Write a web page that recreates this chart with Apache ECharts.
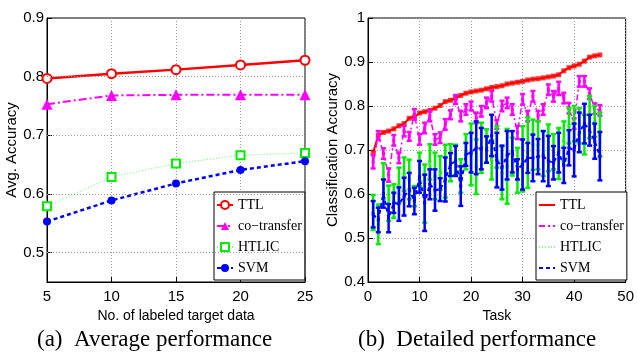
<!DOCTYPE html>
<html><head><meta charset="utf-8">
<script src="https://cdn.jsdelivr.net/npm/echarts@6/dist/echarts.min.js"></script>
<style>html,body{margin:0;padding:0;background:#fff}#c{width:637px;height:354px}</style>
</head><body><div id="c"></div><script>
// ---- (a) Average performance ----
const nLabeled = [5, 10, 15, 20, 25];
const avgTTL   = [0.797, 0.805, 0.812, 0.820, 0.828];
const avgCo    = [0.753, 0.768, 0.769, 0.769, 0.769];
const avgHTLIC = [0.579, 0.629, 0.652, 0.666, 0.670];
const avgSVM   = [0.553, 0.589, 0.618, 0.641, 0.656];
const avgYTicks = [0.5, 0.6, 0.7, 0.8, 0.9];
const avgYGrid  = [0.5, 0.6, 0.7, 0.8];

// ---- (b) Detailed performance ----
const tasks = [1,2,3,4,5,6,7,8,9,10,11,12,13,14,15,16,17,18,19,20,21,22,23,24,25,26,27,28,29,30,31,32,33,34,35,36,37,38,39,40,41,42,43,44,45];
const ttl = [0.695,0.733,0.740,0.743,0.748,0.755,0.760,0.772,0.775,0.784,0.787,0.790,0.795,0.801,0.810,0.813,0.818,0.824,0.829,0.832,0.834,0.836,0.839,0.842,0.844,0.846,0.850,0.852,0.854,0.856,0.859,0.861,0.862,0.864,0.866,0.868,0.871,0.880,0.887,0.891,0.895,0.902,0.911,0.914,0.916];
const co = [0.673,0.733,0.692,0.643,0.722,0.682,0.743,0.731,0.781,0.724,0.750,0.777,0.724,0.728,0.758,0.780,0.815,0.777,0.792,0.800,0.773,0.788,0.807,0.822,0.758,0.800,0.807,0.792,0.740,0.815,0.777,0.822,0.777,0.792,0.837,0.822,0.840,0.818,0.795,0.760,0.856,0.856,0.828,0.794,0.790];
const coErr = [0.015,0.010,0.012,0.015,0.012,0.012,0.012,0.010,0.012,0.012,0.012,0.012,0.012,0.012,0.012,0.010,0.010,0.012,0.012,0.010,0.012,0.012,0.012,0.012,0.010,0.012,0.012,0.012,0.015,0.012,0.012,0.012,0.012,0.012,0.012,0.012,0.015,0.012,0.012,0.012,0.012,0.012,0.012,0.012,0.012];
const htlic = [0.558,0.531,0.630,0.579,0.584,0.620,0.645,0.633,0.595,0.656,0.601,0.673,0.641,0.648,0.652,0.671,0.678,0.641,0.696,0.690,0.662,0.705,0.709,0.678,0.707,0.648,0.663,0.685,0.654,0.680,0.694,0.712,0.711,0.692,0.705,0.696,0.692,0.720,0.755,0.760,0.755,0.735,0.775,0.765,0.735];
const htlicErr = [0.040,0.045,0.040,0.040,0.038,0.040,0.038,0.045,0.023,0.038,0.066,0.040,0.053,0.038,0.060,0.042,0.034,0.038,0.040,0.070,0.062,0.057,0.038,0.045,0.047,0.060,0.085,0.043,0.051,0.074,0.080,0.057,0.055,0.051,0.053,0.040,0.058,0.045,0.040,0.040,0.040,0.045,0.048,0.035,0.050];
const svm = [0.554,0.541,0.601,0.545,0.580,0.577,0.594,0.610,0.584,0.639,0.580,0.622,0.609,0.610,0.633,0.667,0.675,0.618,0.690,0.694,0.705,0.703,0.701,0.733,0.677,0.660,0.688,0.696,0.656,0.667,0.682,0.682,0.685,0.686,0.675,0.671,0.694,0.665,0.705,0.700,0.740,0.760,0.745,0.720,0.686];
const svmErr = [0.030,0.028,0.032,0.032,0.023,0.038,0.043,0.038,0.030,0.036,0.064,0.034,0.047,0.026,0.050,0.026,0.034,0.045,0.026,0.045,0.060,0.047,0.030,0.047,0.062,0.050,0.055,0.047,0.023,0.057,0.034,0.053,0.040,0.057,0.057,0.038,0.045,0.040,0.040,0.060,0.045,0.045,0.035,0.040,0.055];

const names = ['TTL', 'co\u2212transfer', 'HTLIC', 'SVM'];
const RED = '#ff0000', MAG = '#ff00ff', GRN = '#00ee00', LGRN = '#7dff7d', BLU = '#0000ff';
const SANS = '"Liberation Sans", Arial, sans-serif';
const SERIF = '"Liberation Serif", "Times New Roman", serif';
const GRIDLINE = { color: '#9a9a9a', type: [1, 2], width: 1 };

function pairs(xs, ys) { return xs.map((x, i) => [x, ys[i]]); }
function bars(xs, ys, es) { return xs.map((x, i) => [x, ys[i] - es[i], ys[i] + es[i], ys[i]]); }
function errRender(color, lw, cap) {
  return function (params, api) {
    const x = api.value(0), lo = api.value(1), hi = api.value(2), m = api.value(3);
    const a = api.coord([x, hi]), b = api.coord([x, lo]), c = api.coord([x, m]);
    const st = { stroke: color, lineWidth: lw };
    return { type: 'group', children: [
      { type: 'line', shape: { x1: a[0], y1: a[1], x2: b[0], y2: b[1] }, style: st },
      { type: 'line', shape: { x1: a[0] - cap, y1: a[1], x2: a[0] + cap, y2: a[1] }, style: st },
      { type: 'line', shape: { x1: b[0] - cap, y1: b[1], x2: b[0] + cap, y2: b[1] }, style: st },
      { type: 'rect', shape: { x: c[0] - 1.5, y: c[1] - 1.5, width: 3, height: 3 }, style: { fill: color } }
    ] };
  };
}

function ax(extra) {
  const base = {
    axisLine: { show: true, lineStyle: { color: '#000', width: 1 } },
    axisTick: { show: true, inside: true, length: 5, lineStyle: { color: '#000' } },
    splitLine: { show: true, lineStyle: GRIDLINE },
    nameLocation: 'middle',
    nameTextStyle: { color: '#000', fontFamily: SANS, fontSize: 15 }
  };
  return Object.assign(base, extra);
}
const lab = (extra) => Object.assign({ color: '#000', fontFamily: SANS, fontSize: 15 }, extra);

const option = {
  backgroundColor: '#fff',
  animation: false,
  title: [
    { text: '(a)  Average performance', left: 37, top: 328, padding: 0,
      textStyle: { fontFamily: SERIF, fontSize: 23, fontWeight: 'normal', color: '#000' } },
    { text: '(b)  Detailed performance', left: 358, top: 328, padding: 0,
      textStyle: { fontFamily: SERIF, fontSize: 23, fontWeight: 'normal', color: '#000' } }
  ],
  grid: [
    { left: 47, top: 18, width: 258, height: 264, show: true, borderColor: '#000', borderWidth: 1, backgroundColor: 'transparent' },
    { left: 368, top: 18, width: 262, height: 264, show: true, borderColor: '#000', borderWidth: 1, backgroundColor: 'transparent' }
  ],
  xAxis: [
    ax({ gridIndex: 0, type: 'value', min: 5, max: 25, interval: 5, name: 'No. of labeled target data', nameGap: 21,
         nameTextStyle: { color: '#000', fontFamily: SANS, fontSize: 14 }, axisLabel: lab({ margin: 7 }) }),
    ax({ gridIndex: 1, type: 'value', min: 0, max: 50, interval: 10, name: 'Task', nameGap: 21,
         nameTextStyle: { color: '#000', fontFamily: SANS, fontSize: 14 }, axisLabel: lab({ margin: 7 }) })
  ],
  yAxis: [
    ax({ gridIndex: 0, type: 'value', min: 0.45, max: 0.9, interval: 0.05, name: 'Avg. Accuracy', nameGap: 25,
         splitLine: { show: false },
         axisTick: { show: true, inside: true, length: 5, lineStyle: { color: '#000' }, customValues: avgYTicks },
         axisLabel: lab({ margin: 3, customValues: avgYTicks, formatter: v => v.toFixed(1) }) }),
    ax({ gridIndex: 1, type: 'value', min: 0.4, max: 1, interval: 0.1, name: 'Classification Accuracy', nameGap: 25,
         axisLabel: lab({ margin: 3, formatter: v => (Math.abs(v - 1) < 1e-9 ? '1' : v.toFixed(1)) }) })
  ],
  legend: [
    { data: names, left: 214, top: 192, orient: 'vertical', itemWidth: 16, itemHeight: 10, itemGap: 7,
      padding: [6, 3, 5, 2], backgroundColor: '#fff', borderColor: '#000', borderWidth: 1, borderRadius: 0,
      textStyle: { fontFamily: SERIF, fontSize: 14, color: '#000' }, selectedMode: false },
    { data: names.map(n => 'b-' + n), formatter: n => n.slice(2), left: 536, top: 192, orient: 'vertical', itemWidth: 16, itemHeight: 10, itemGap: 7,
      padding: [6, 3, 5, 2], backgroundColor: '#fff', borderColor: '#000', borderWidth: 1, borderRadius: 0,
      itemStyle: { opacity: 0 },
      textStyle: { fontFamily: SERIF, fontSize: 14, color: '#000' }, selectedMode: false }
  ],
  series: [
    // (a) horizontal grid lines at the labelled ticks
    { name: 'gridlines-a', type: 'line', xAxisIndex: 0, yAxisIndex: 0, data: [], z: 1, silent: true,
      markLine: { silent: true, symbol: 'none', label: { show: false }, animation: false,
                  lineStyle: GRIDLINE, emphasis: { disabled: true }, data: avgYGrid.map(v => ({ yAxis: v })) } },
    { name: names[0], type: 'line', xAxisIndex: 0, yAxisIndex: 0, data: pairs(nLabeled, avgTTL),
      symbol: 'emptyCircle', symbolSize: 9, itemStyle: { color: RED, borderWidth: 2 }, lineStyle: { color: RED, width: 2.5 }, z: 3 },
    { name: names[1], type: 'line', xAxisIndex: 0, yAxisIndex: 0, data: pairs(nLabeled, avgCo),
      symbol: 'triangle', symbolSize: 11, itemStyle: { color: MAG }, lineStyle: { color: MAG, width: 2, type: [8, 3, 2, 3] }, z: 3 },
    { name: names[2], type: 'line', xAxisIndex: 0, yAxisIndex: 0, data: pairs(nLabeled, avgHTLIC),
      symbol: 'emptyRect', symbolSize: 8, itemStyle: { color: GRN, borderWidth: 2 }, lineStyle: { color: LGRN, width: 1.2, type: [1, 2] }, z: 3 },
    { name: names[3], type: 'line', xAxisIndex: 0, yAxisIndex: 0, data: pairs(nLabeled, avgSVM),
      symbol: 'circle', symbolSize: 8, itemStyle: { color: BLU }, lineStyle: { color: BLU, width: 2.5, type: [4, 3] }, z: 3 },
    // (b)
    { name: 'b-' + names[0], type: 'line', xAxisIndex: 1, yAxisIndex: 1, data: pairs(tasks, ttl),
      symbol: 'none', lineStyle: { color: RED, width: 2 }, itemStyle: { color: RED }, z: 2 },
    { name: 'ttl-marks', type: 'scatter', xAxisIndex: 1, yAxisIndex: 1, data: pairs(tasks, ttl),
      symbol: 'rect', symbolSize: 5, itemStyle: { color: RED }, z: 2 },
    { name: 'b-' + names[1], type: 'line', xAxisIndex: 1, yAxisIndex: 1, data: pairs(tasks, co),
      symbol: 'none', lineStyle: { color: MAG, width: 1.5, type: [6, 3, 2, 3] }, itemStyle: { color: MAG }, z: 3 },
    { name: 'co-err', type: 'custom', xAxisIndex: 1, yAxisIndex: 1, data: bars(tasks, co, coErr),
      encode: { x: 0, y: [1, 2] }, renderItem: errRender(MAG, 2.5, 2.5), z: 3 },
    { name: 'b-' + names[2], type: 'line', xAxisIndex: 1, yAxisIndex: 1, data: pairs(tasks, htlic),
      symbol: 'none', lineStyle: { color: LGRN, width: 1.2, type: [1, 2] }, itemStyle: { color: LGRN }, z: 4 },
    { name: 'htlic-err', type: 'custom', xAxisIndex: 1, yAxisIndex: 1, data: bars(tasks, htlic, htlicErr),
      encode: { x: 0, y: [1, 2] }, renderItem: errRender(GRN, 2.5, 2.5), z: 4 },
    { name: 'b-' + names[3], type: 'line', xAxisIndex: 1, yAxisIndex: 1, data: pairs(tasks, svm),
      symbol: 'none', lineStyle: { color: BLU, width: 2, type: [4, 3] }, itemStyle: { color: BLU }, z: 5 },
    { name: 'svm-err', type: 'custom', xAxisIndex: 1, yAxisIndex: 1, data: bars(tasks, svm, svmErr),
      encode: { x: 0, y: [1, 2] }, renderItem: errRender(BLU, 2.5, 2.5), z: 5 }
  ]
};
const chart = echarts.init(document.getElementById('c'), null, { renderer: 'canvas' });
chart.setOption(option);
</script></body></html>
